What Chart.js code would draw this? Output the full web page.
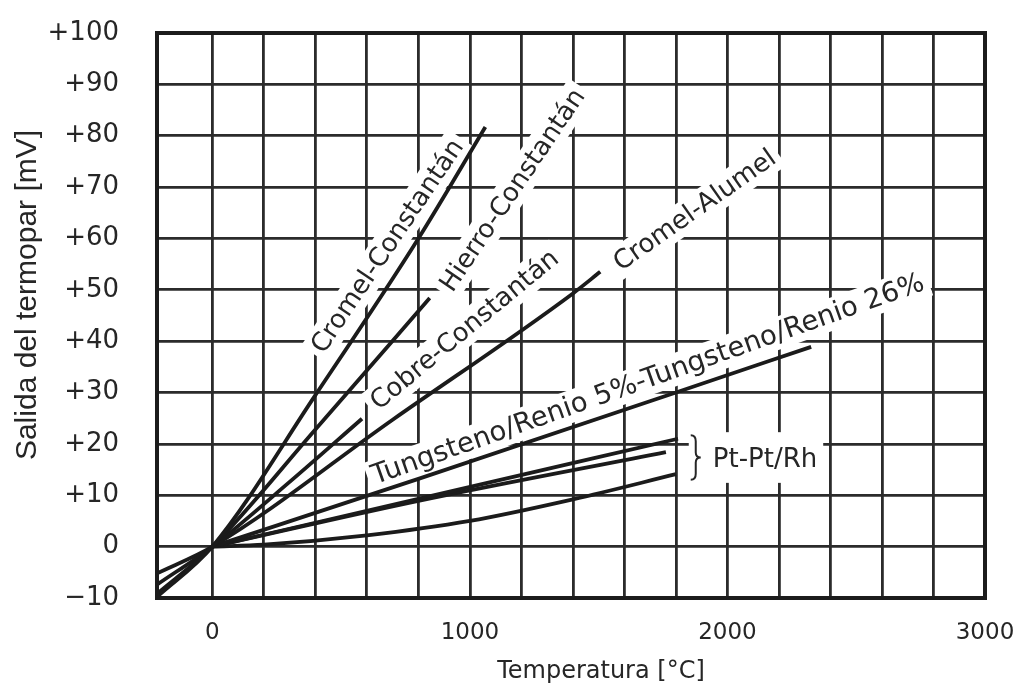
<!DOCTYPE html>
<html>
<head>
<meta charset="utf-8">
<script src="https://cdn.jsdelivr.net/npm/chart.js@4.4.0/dist/chart.umd.min.js"></script>
<style>
  html, body { margin: 0; padding: 0; background: #fff; }
</style>
</head>
<body>
<canvas id="tcChart" width="1022" height="691"></canvas>
<script>
// Thermocouple output [mV] vs temperature [°C]
const tempCromelConst = [-215, 0, 400, 800, 1060];
const mvCromelConst   = [-9.8, 0, 29.5, 60, 81.7];
const tempHierroConst = [-215, 0, 400, 844];
const mvHierroConst   = [-9.2, 0, 22.8, 48.4];
const tempCobreConst  = [-215, 0, 300, 581];
const mvCobreConst    = [-7.4, 0, 12.6, 24.9];
const tempCromelAlu   = [-215, 0, 700, 1400, 1506];
const mvCromelAlu     = [-5.2, 0, 24.7, 49.3, 53.5];
const tempTungsteno   = [0, 800, 1800, 2325];
const mvTungsteno     = [0, 13.2, 30, 38.9];
const tempPtR = [0, 800, 1808];
const mvPtR   = [0, 9.3, 21.0];
const tempPtS = [0, 800, 1761];
const mvPtS   = [0, 8.9, 18.4];
const tempPtB = [0, 200, 600, 1000, 1400, 1800];
const mvPtB   = [0, 0.4, 2.2, 5.0, 9.2, 14.1];

const xTicks = [0, 200, 400, 600, 800, 1000, 1200, 1400, 1600, 1800, 2000, 2200, 2400, 2600, 2800, 3000];
const xTickLabels = ['0', '', '', '', '', '1000', '', '', '', '', '2000', '', '', '', '', '3000'];
const yTicks = [-10, 0, 10, 20, 30, 40, 50, 60, 70, 80, 90, 100];
const yTickLabels = ['\u221210', '0', '+10', '+20', '+30', '+40', '+50', '+60', '+70', '+80', '+90', '+100'];

const xTitle = 'Temperatura [°C]';
const yTitle = 'Salida del termopar [mV]';

// text written along the curves (anchor in data units, angle in degrees)
const curveNotes = [
  { text: 'Cromel-Constantán', x: 680, y: 58.5, angle: -56, size: 26 },
  { text: 'Hierro-Constantán', x: 1166, y: 69.4, angle: -56, size: 26 },
  { text: 'Cobre-Constantán', x: 979, y: 42.2, angle: -39.5, size: 26 },
  { text: 'Cromel-Alumel', x: 1873, y: 65.5, angle: -35, size: 26 },
  { text: 'Tungsteno/Renio 5%-Tungsteno/Renio 26%', x: 1691, y: 32.6, angle: -19.5, size: 27.5 }
];
const ptNote = { text: 'Pt-Pt/Rh', x: 1943, y: 16.9, braceX: 1873, braceTop: 21.7, braceBottom: 13.0 };

const ink = '#262626';
const pts = (t, v) => t.map((x, i) => ({ x: x, y: v[i] }));

const notesPlugin = {
  id: 'notes',
  beforeDatasetsDraw(chart) {
    const { ctx, scales: { x, y } } = chart;
    ctx.save();
    ctx.textAlign = 'center';
    ctx.textBaseline = 'middle';
    curveNotes.forEach(n => {
      const px = x.getPixelForValue(n.x);
      const py = y.getPixelForValue(n.y);
      ctx.font = n.size + 'px "DejaVu Sans"';
      const w = ctx.measureText(n.text).width;
      ctx.save();
      ctx.translate(px, py);
      ctx.rotate(n.angle * Math.PI / 180);
      ctx.fillStyle = '#fff';
      ctx.fillRect(-w / 2 - 5, -16, w + 10, 32);
      ctx.fillStyle = ink;
      ctx.fillText(n.text, 0, 1);
      ctx.restore();
    });

    // Pt-Pt/Rh with a brace grouping the three platinum curves
    const bx = x.getPixelForValue(ptNote.braceX);
    const bt = y.getPixelForValue(ptNote.braceTop);
    const bb = y.getPixelForValue(ptNote.braceBottom);
    const bm = (bt + bb) / 2;
    const tx = x.getPixelForValue(ptNote.x);
    const ty = y.getPixelForValue(ptNote.y);
    ctx.font = '26px "DejaVu Sans"';
    ctx.textAlign = 'left';
    const tw = ctx.measureText(ptNote.text).width;
    ctx.fillStyle = '#fff';
    ctx.fillRect(bx - 6, bt - 3, tx + tw + 6 - (bx - 6), bb - bt + 6);
    ctx.fillStyle = ink;
    ctx.fillText(ptNote.text, tx, ty);
    ctx.strokeStyle = ink;
    ctx.lineWidth = 2;
    ctx.beginPath();
    ctx.moveTo(bx - 4, bt);
    ctx.quadraticCurveTo(bx + 1, bt, bx + 1, bt + 6);
    ctx.lineTo(bx + 1, bm - 5);
    ctx.quadraticCurveTo(bx + 1, bm, bx + 6, bm);
    ctx.quadraticCurveTo(bx + 1, bm, bx + 1, bm + 5);
    ctx.lineTo(bx + 1, bb - 6);
    ctx.quadraticCurveTo(bx + 1, bb, bx - 4, bb);
    ctx.stroke();
    ctx.restore();
  },
  afterDraw(chart) {
    const { ctx, chartArea: a } = chart;
    ctx.save();
    ctx.strokeStyle = '#1c1c1c';
    ctx.lineWidth = 4;
    ctx.strokeRect(a.left, a.top, a.right - a.left, a.bottom - a.top);

    ctx.fillStyle = ink;
    ctx.textAlign = 'center';
    ctx.textBaseline = 'middle';
    ctx.font = '24px "DejaVu Sans"';
    ctx.fillText(xTitle, 601, 672);
    ctx.translate(28, 295);
    ctx.rotate(-Math.PI / 2);
    ctx.font = '30px "Liberation Sans"';
    ctx.fillText(yTitle, 0, 0);
    ctx.restore();
  }
};

const lineStyle = {
  borderColor: '#1b1b1b',
  borderWidth: 3.8,
  pointRadius: 0,
  cubicInterpolationMode: 'monotone',
  fill: false
};

const ctx = document.getElementById('tcChart').getContext('2d');
new Chart(ctx, {
  type: 'line',
  data: {
    datasets: [
      { label: 'Cromel-Constantán', data: pts(tempCromelConst, mvCromelConst), ...lineStyle },
      { label: 'Hierro-Constantán', data: pts(tempHierroConst, mvHierroConst), ...lineStyle },
      { label: 'Cobre-Constantán', data: pts(tempCobreConst, mvCobreConst), ...lineStyle },
      { label: 'Cromel-Alumel', data: pts(tempCromelAlu, mvCromelAlu), ...lineStyle },
      { label: 'Tungsteno/Renio', data: pts(tempTungsteno, mvTungsteno), ...lineStyle },
      { label: 'Pt-Pt/Rh 13%', data: pts(tempPtR, mvPtR), ...lineStyle },
      { label: 'Pt-Pt/Rh 10%', data: pts(tempPtS, mvPtS), ...lineStyle },
      { label: 'Pt30Rh-Pt6Rh', data: pts(tempPtB, mvPtB), ...lineStyle }
    ]
  },
  options: {
    responsive: false,
    animation: false,
    layout: { autoPadding: false, padding: { top: 33, right: 37, left: 0, bottom: 0 } },
    plugins: { legend: { display: false }, tooltip: { enabled: false } },
    scales: {
      x: {
        type: 'linear',
        min: -215,
        max: 3000,
        afterBuildTicks: s => { s.ticks = xTicks.map(v => ({ value: v })); },
        afterFit: s => { s.height = 93; s.paddingLeft = 0; s.paddingRight = 0; },
        grid: { color: '#2b2b2b', lineWidth: 2.8, drawTicks: false },
        border: { display: false },
        ticks: {
          autoSkip: false,
          maxRotation: 0,
          padding: 21,
          color: ink,
          font: { family: 'DejaVu Sans', size: 23 },
          callback: (v, i) => xTickLabels[i]
        }
      },
      y: {
        type: 'linear',
        min: -10,
        max: 100,
        afterBuildTicks: s => { s.ticks = yTicks.map(v => ({ value: v })); },
        afterFit: s => { s.width = 157; s.paddingTop = 0; s.paddingBottom = 0; },
        grid: { color: '#2b2b2b', lineWidth: 2.8, drawTicks: false },
        border: { display: false },
        ticks: {
          autoSkip: false,
          padding: 38,
          color: ink,
          font: { family: 'DejaVu Sans', size: 26 },
          callback: (v, i) => yTickLabels[i]
        }
      }
    }
  },
  plugins: [notesPlugin]
});
</script>
</body>
</html>
